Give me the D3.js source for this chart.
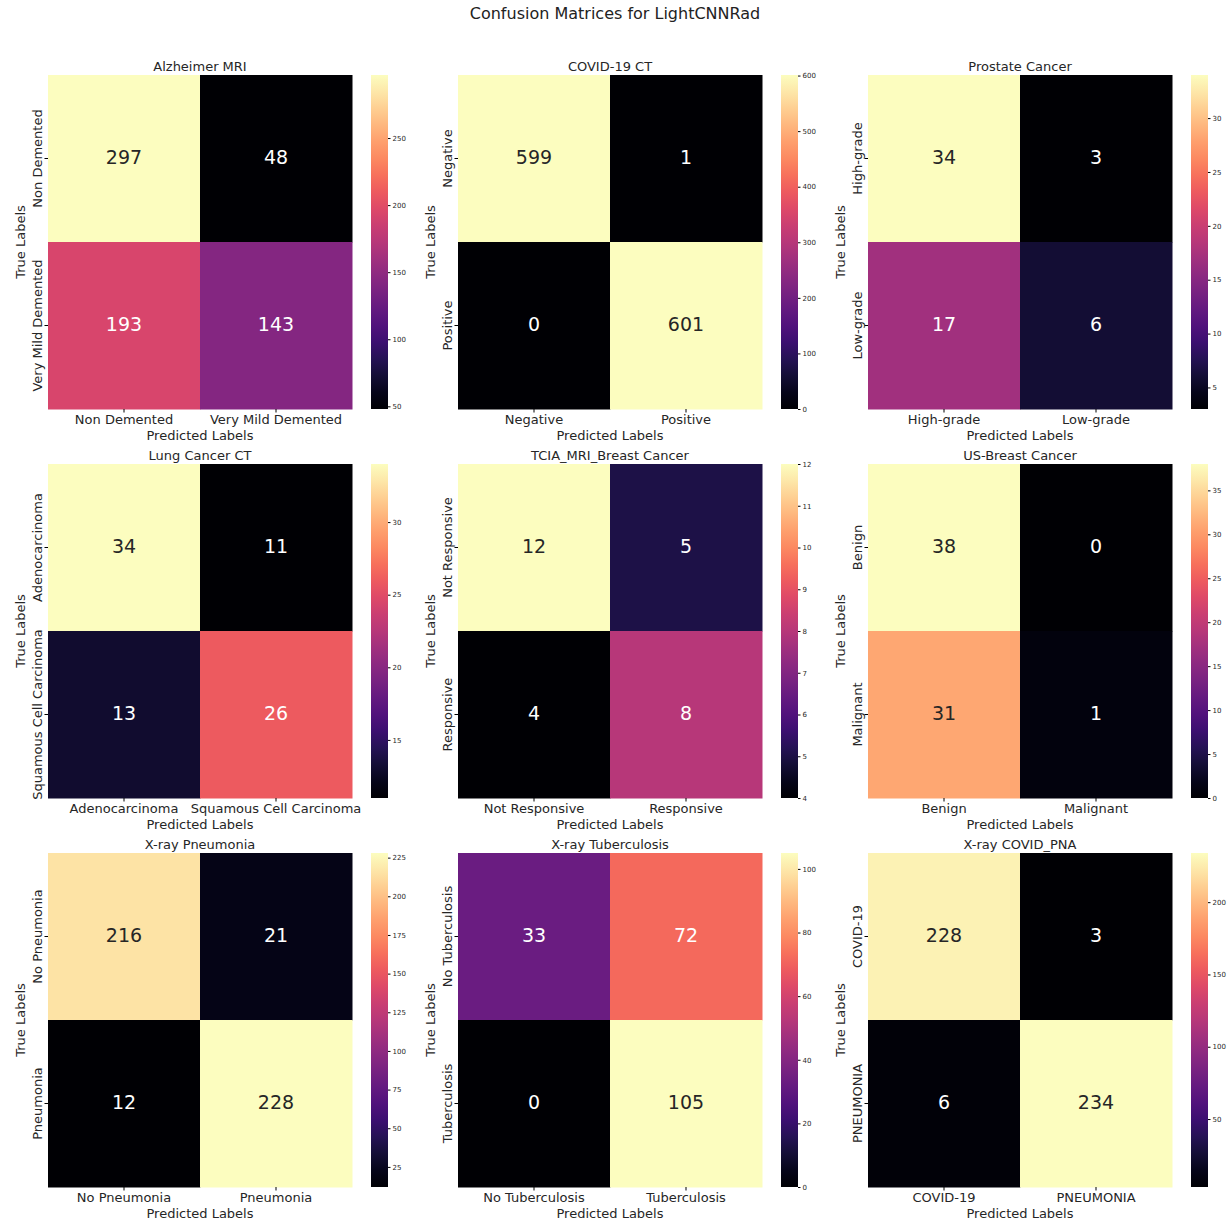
<!DOCTYPE html>
<html><head><meta charset="utf-8">
<script src="https://cdn.jsdelivr.net/npm/d3@7"></script>
<style>body{margin:0;background:#fff;} text{font-family:"DejaVu Sans",sans-serif;}</style>
</head><body>
<svg id="chart" width="1230" height="1226"></svg>
<script>
const mainTitle = "Confusion Matrices for LightCNNRad";
const titles = ["Alzheimer MRI","COVID-19 CT","Prostate Cancer","Lung Cancer CT","TCIA_MRI_Breast Cancer","US-Breast Cancer","X-ray Pneumonia","X-ray Tuberculosis","X-ray COVID_PNA"];
const classLabels = [
  ["Non Demented","Very Mild Demented"],
  ["Negative","Positive"],
  ["High-grade","Low-grade"],
  ["Adenocarcinoma","Squamous Cell Carcinoma"],
  ["Not Responsive","Responsive"],
  ["Benign","Malignant"],
  ["No Pneumonia","Pneumonia"],
  ["No Tuberculosis","Tuberculosis"],
  ["COVID-19","PNEUMONIA"]
];
const matrices = [
  [[297,48],[193,143]],
  [[599,1],[0,601]],
  [[34,3],[17,6]],
  [[34,11],[13,26]],
  [[12,5],[4,8]],
  [[38,0],[31,1]],
  [[216,21],[12,228]],
  [[33,72],[0,105]],
  [[228,3],[6,234]]
];
const colorbarTicks = [
  [50,100,150,200,250],
  [0,100,200,300,400,500,600],
  [5,10,15,20,25,30],
  [15,20,25,30],
  [4,5,6,7,8,9,10,11,12],
  [0,5,10,15,20,25,30,35],
  [25,50,75,100,125,150,175,200,225],
  [0,20,40,60,80,100],
  [50,100,150,200]
];

const svg = d3.select("#chart");
svg.append("text").attr("x",615).attr("y",19).attr("text-anchor","middle")
  .attr("font-size",16).attr("fill","#222").text(mainTitle);

function lum(c){
  const rgb = d3.rgb(c);
  const f = v => { v/=255; return v<=0.03928? v/12.92 : Math.pow((v+0.055)/1.055,2.4); };
  return 0.2126*f(rgb.r)+0.7152*f(rgb.g)+0.0722*f(rgb.b);
}

const W = 304, H = 334;
const defs = svg.append("defs");
const gradId = "magmaGrad";
const grad = defs.append("linearGradient").attr("id",gradId).attr("x1",0).attr("y1",1).attr("x2",0).attr("y2",0);
d3.range(0,1.0001,0.05).forEach(t=>grad.append("stop").attr("offset",t).attr("stop-color",d3.interpolateMagma(t)));

matrices.forEach((m,i)=>{
  const col = i%3, row = Math.floor(i/3);
  const x0 = 48 + col*410, y0 = 75 + row*389;
  const g = svg.append("g").attr("transform",`translate(${x0},${y0})`);
  const labels = classLabels[i];
  const flat = m.flat();
  const mn = d3.min(flat), mx = d3.max(flat);
  const color = d3.scaleSequential(d3.interpolateMagma).domain([mn,mx]);
  const x = d3.scaleBand().domain(labels).range([0,W]);
  const y = d3.scaleBand().domain(labels).range([0,H]);
  const cells = [];
  m.forEach((r,ri)=>r.forEach((v,ci)=>cells.push({t:labels[ri],p:labels[ci],v})));
  g.selectAll("rect.cell").data(cells).join("rect").attr("class","cell")
    .attr("x",d=>x(d.p)).attr("y",d=>y(d.t))
    .attr("width",x.bandwidth()+0.5).attr("height",y.bandwidth()+0.5)
    .attr("fill",d=>color(d.v));
  g.selectAll("text.ann").data(cells).join("text").attr("class","ann")
    .attr("x",d=>x(d.p)+x.bandwidth()/2).attr("y",d=>y(d.t)+y.bandwidth()/2-2)
    .attr("text-anchor","middle").attr("dominant-baseline","central")
    .attr("font-size",19)
    .attr("fill",d=>lum(color(d.v))>0.408?"#262626":"#ffffff")
    .text(d=>d.v);
  // axes
  const xa = g.append("g").attr("transform",`translate(0,${H})`)
    .call(d3.axisBottom(x).tickSize(3.5).tickPadding(2));
  xa.select(".domain").remove();
  xa.selectAll("text").attr("font-size",13).attr("fill","#262626").attr("font-family","DejaVu Sans");
  const ya = g.append("g").call(d3.axisLeft(y).tickSize(3.5).tickPadding(4));
  ya.select(".domain").remove();
  ya.selectAll("text").attr("font-size",13).attr("fill","#262626").attr("font-family","DejaVu Sans")
    .attr("text-anchor","middle").attr("x",0).attr("y",0).attr("dx",0).attr("dy",0)
    .attr("transform","translate(-6,0) rotate(-90)");
  g.append("text").attr("x",W/2).attr("y",H+31).attr("text-anchor","middle")
    .attr("font-size",13).attr("fill","#262626").text("Predicted Labels");
  g.append("text").attr("transform",`translate(-23,${H/2}) rotate(-90)`).attr("text-anchor","middle")
    .attr("font-size",13).attr("fill","#262626").text("True Labels");
  g.append("text").attr("x",W/2).attr("y",-4).attr("text-anchor","middle")
    .attr("font-size",13).attr("fill","#262626").text(titles[i]);
  // colorbar
  const cb = g.append("g").attr("transform",`translate(${W+19},0)`);
  cb.append("rect").attr("width",17).attr("height",H).attr("fill",`url(#${gradId})`);
  const cy = d3.scaleLinear().domain([mn,mx]).range([H,0]);
  const ca = cb.append("g").attr("transform","translate(17,0)")
    .call(d3.axisRight(cy).tickValues(colorbarTicks[i]).tickSize(2.5).tickPadding(2));
  ca.select(".domain").remove();
  ca.selectAll("text").attr("font-size",7).attr("fill","#262626").attr("font-family","DejaVu Sans");
});
</script>
</body></html>
